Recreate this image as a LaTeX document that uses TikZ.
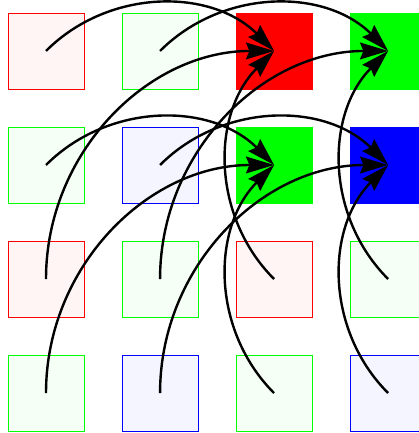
\documentclass[tikz,border=0pt]{standalone}
\usepackage{xcolor}
\usepackage{tikz}
\usetikzlibrary{arrows.meta}

\begin{document}
\begin{tikzpicture}[
    pix/.style={draw, line width=0.6pt, minimum size=2cm, inner sep=0pt, outer sep=0pt},
    link/.style={line width=1.8pt, -{Stealth[length=21pt, width=12.5pt, inset=2.5pt]}}
  ]
  \useasboundingbox (-0.21,0.34) rectangle (10.79,-11.05);

  % ── Mosaic: light pixels ─────────────────────────────────
  \node[pix, draw=red,   fill=red!4]   (p11) at (1,-1)  {};
  \node[pix, draw=green, fill=green!4] (p12) at (4,-1)  {};
  \node[pix, draw=green, fill=green!4] (p21) at (1,-4)  {};
  \node[pix, draw=blue,  fill=blue!4]  (p22) at (4,-4)  {};
  \node[pix, draw=red,   fill=red!4]   (p31) at (1,-7)  {};
  \node[pix, draw=green, fill=green!4] (p32) at (4,-7)  {};
  \node[pix, draw=red,   fill=red!4]   (p33) at (7,-7)  {};
  \node[pix, draw=green, fill=green!4] (p34) at (10,-7) {};
  \node[pix, draw=green, fill=green!4] (p41) at (1,-10) {};
  \node[pix, draw=blue,  fill=blue!4]  (p42) at (4,-10) {};
  \node[pix, draw=green, fill=green!4] (p43) at (7,-10) {};
  \node[pix, draw=blue,  fill=blue!4]  (p44) at (10,-10) {};

  % ── Gathered pixels (solid) ──────────────────────────────
  \node[pix, draw=red,   fill=red]   (p13) at (7,-1)  {};
  \node[pix, draw=green, fill=green] (p14) at (10,-1) {};
  \node[pix, draw=green, fill=green] (p23) at (7,-4)  {};
  \node[pix, draw=blue,  fill=blue]  (p24) at (10,-4) {};

  % ── Red ──────────────────────────────────────────────────
  \draw[link] (p11.center) to[bend left=45] (p13.center);
  \draw[link] (p31.center) to[bend left=45] (p13.center);
  \draw[link] (p33.center) to[bend left=45] (p13.center);
  % ── Green (first) ────────────────────────────────────────
  \draw[link] (p12.center) to[bend left=45] (p14.center);
  \draw[link] (p32.center) to[bend left=45] (p14.center);
  \draw[link] (p34.center) to[bend left=45] (p14.center);
  % ── Green (second) ───────────────────────────────────────
  \draw[link] (p21.center) to[bend left=45] (p23.center);
  \draw[link] (p41.center) to[bend left=45] (p23.center);
  \draw[link] (p43.center) to[bend left=45] (p23.center);
  % ── Blue ─────────────────────────────────────────────────
  \draw[link] (p22.center) to[bend left=45] (p24.center);
  \draw[link] (p42.center) to[bend left=45] (p24.center);
  \draw[link] (p44.center) to[bend left=45] (p24.center);
\end{tikzpicture}
\end{document}
